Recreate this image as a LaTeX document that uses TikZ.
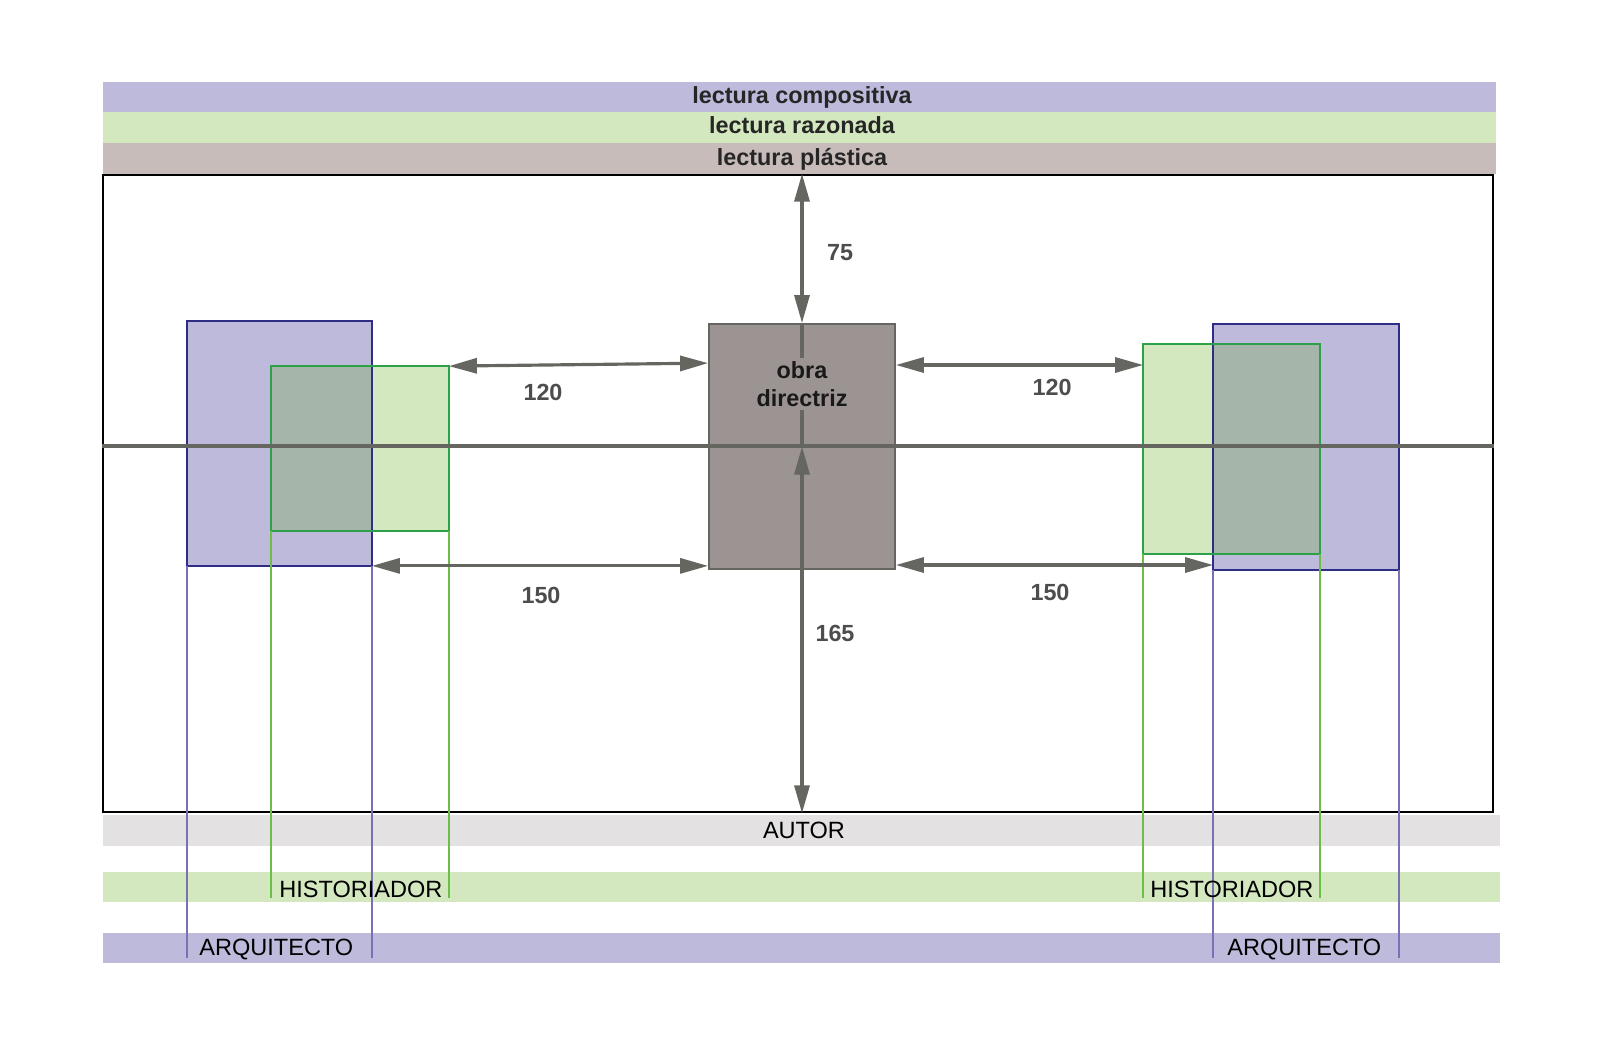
\documentclass[tikz,border=0pt]{standalone}
\usepackage{fontspec}
\setmainfont{Liberation Sans}
\usetikzlibrary{arrows.meta,fit}
\definecolor{lila}{HTML}{BDBADB}
\definecolor{verde}{HTML}{D4E8BF}
\definecolor{rosa}{HTML}{C8BCBA}
\definecolor{nieve}{HTML}{E3E1E2}
\definecolor{mezcla}{HTML}{A5B5AA}
\definecolor{azul}{HTML}{2E2E86}
\definecolor{verdeosc}{HTML}{2DA04A}
\definecolor{lineaverde}{HTML}{6DBE45}
\definecolor{linealila}{HTML}{7A70B5}
\definecolor{gris}{HTML}{666661}
\definecolor{obrafill}{HTML}{9C9492}
\definecolor{numtxt}{HTML}{4D4D4D}
\begin{document}
\begin{tikzpicture}[x=0.02cm,y=-0.02cm,
		zona/.style={inner sep=0pt,draw=none},
		caja/.style={inner sep=0pt,line width=1pt},
		cota/.style={draw=gris,line width=1.8pt,{Triangle[length=5.6mm,width=3mm]}-{Triangle[length=5.6mm,width=3mm]}},
		banda/.style={anchor=base,text=black!85,font=\fontsize{13.3}{16}\selectfont\bfseries},
		num/.style={text=numtxt,font=\fontsize{13.3}{16}\selectfont\bfseries},
		rotulo/.style={anchor=base west,inner sep=0pt,font=\fontsize{13.4}{16}\selectfont}]
		\useasboundingbox (0,0) rectangle (1600,1045);
		\node[zona,fill=lila,fit={(103,82)(1496,112)}] (compo) {};
		\node[zona,fill=verde,fit={(103,112)(1496,143)}] (razon) {};
		\node[zona,fill=rosa,fit={(103,143)(1496,174)}] (plast) {};
		\node[zona,fill=nieve,fit={(103,815)(1500,846)}] (autor) {};
		\node[zona,fill=verde,fit={(103,872)(1500,902)}] (hist) {};
		\node[zona,fill=lila,fit={(103,933)(1500,963)}] (arq) {};
		\node[banda] (tcompo) at (802,103) {lectura compositiva};
		\node[banda] (trazon) at (802,133) {lectura razonada};
		\node[banda] (tplast) at (802,165) {lectura plástica};
		\node[draw=black,line width=1.5pt,inner sep=0pt,fit={(103,175)(1493,812)}] (marco) {};
		\node[caja,fill=lila,fit={(188,322)(371,565)}] (arqL) {};
		\node[caja,fill=verde,fit={(272,367)(448,530)}] (histL) {};
		\node[caja,fill=verde,fit={(1144,345)(1319,553)}] (histR) {};
		\node[caja,fill=lila,fit={(1214,325)(1398,569)}] (arqR) {};
		\fill[mezcla] (histL.north west) rectangle (arqL.east |- histL.south);
		\fill[mezcla] (arqR.west |- histR.north) rectangle (histR.south east);
		\foreach \b in {arqL,arqR} \draw[azul,line width=1pt] (\b.north west) rectangle (\b.south east);
		\foreach \b in {histL,histR} \draw[verdeosc,line width=1pt] (\b.north west) rectangle (\b.south east);
		\node[caja,fill=obrafill,draw=gris,fit={(709,324)(895,569)}] (obra) {};
		\draw[gris,line width=1.8pt] (marco.west |- 0,446) -- (marco.east |- 0,446);
		\foreach \b in {arqL,arqR} \draw[linealila,line width=1.5pt] (\b.south west) -- (\b.south west |- 0,958) (\b.south east) -- (\b.south east |- 0,958);
		\foreach \b in {histL,histR} \draw[lineaverde,line width=1.5pt] (\b.south west) -- (\b.south west |- 0,898) (\b.south east) -- (\b.south east |- 0,898);
		\draw[cota] (obra.north) -- (obra.north |- marco.north);
		\draw[gris,line width=1.8pt] (obra.north) -- (obra.center);
		\draw[cota] (obra.center) -- (obra.center |- marco.south);
		\draw[cota] (histL.north east) -- ([yshift=-0.8cm]obra.north west);
		\draw[cota] (obra.east |- 0,365) -- (histR.west |- 0,365);
		\draw[cota] (arqL.south east) -- (obra.west |- arqL.south east);
		\draw[cota] (obra.east |- 0,565) -- (arqR.west |- 0,565);
		\node[fill=obrafill,inner sep=2pt,align=center,text=black!90,font=\fontsize{13.3}{16}\selectfont\bfseries] (tobra) at (802,384) {obra\\directriz};
		\node[num] (c75) at (840,253) {75};
		\node[num] (c120a) at (543,392) {120};
		\node[num] (c120b) at (1052,387) {120};
		\node[num] (c150a) at (541,595) {150};
		\node[num] (c150b) at (1050,592) {150};
		\node[num] (c165) at (835,633) {165};
		\node[rotulo,anchor=base] (tautor) at (804,838) {AUTOR};
		\node[rotulo] (thistL) at (279,897) {HISTORIADOR};
		\node[rotulo] (thistR) at (1150,897) {HISTORIADOR};
		\node[rotulo] (tarqL) at (199,955) {ARQUITECTO};
		\node[rotulo] (tarqR) at (1227,955) {ARQUITECTO};
	\end{tikzpicture}
\end{document}
